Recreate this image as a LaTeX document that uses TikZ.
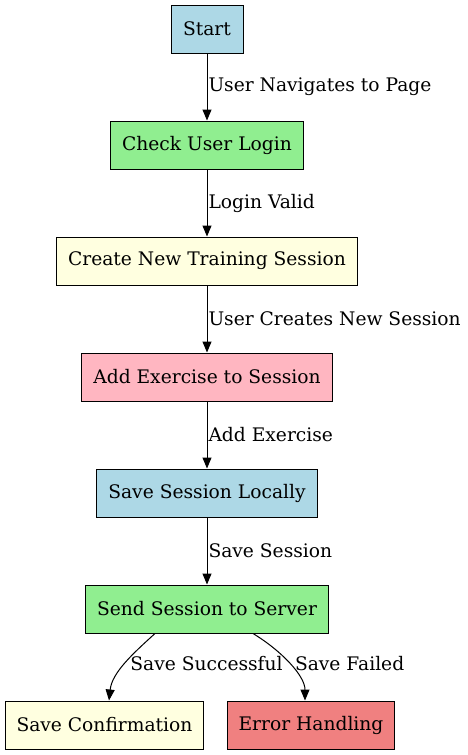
\documentclass[tikz,border=0pt]{standalone}
\usepackage{fontspec}
\setmainfont{DejaVu Serif}
\usetikzlibrary{arrows.meta}

\definecolor{lightblue}{HTML}{ADD8E6}
\definecolor{lightgreen}{HTML}{90EE90}
\definecolor{lightyellow}{HTML}{FFFFE0}
\definecolor{lightpink}{HTML}{FFB6C1}
\definecolor{lightcoral}{HTML}{F08080}

\tikzstyle{block} = [rectangle, draw, line width=1pt, minimum width=72pt, minimum height=48pt, inner xsep=11.5pt, font=\fontsize{18.67pt}{22pt}\selectfont]
\tikzstyle{flow} = [line width=1pt, -{Triangle[length=11pt,width=9pt]}]
\tikzstyle{lbl} = [right, inner sep=1pt, font=\fontsize{18.67pt}{22pt}\selectfont]

\begin{document}
\begin{tikzpicture}[x=1pt, y=-1pt]
        \useasboundingbox (0,0) rectangle (467,755);
        % Main chain of steps
        \node (start) at (207,29) [block, fill=lightblue] {Start};
        \node (login) at (207,145) [block, fill=lightgreen] {Check User Login};
        \node (create) at (207,261) [block, fill=lightyellow] {Create New Training Session};
        \node (addex) at (207,377) [block, fill=lightpink] {Add Exercise to Session};
        \node (local) at (207,493) [block, fill=lightblue] {Save Session Locally};
        \node (send) at (207,609) [block, fill=lightgreen] {Send Session to Server};
        % Outcomes
        \node (confirm) at (104.5,725) [block, fill=lightyellow] {Save Confirmation};
        \node (error) at (311,725) [block, fill=lightcoral] {Error Handling};

        \draw[flow] (start) -- node[lbl] {User Navigates to Page} (login);
        \draw[flow] (login) -- node[lbl] {Login Valid} (create);
        \draw[flow] (create) -- node[lbl] {User Creates New Session} (addex);
        \draw[flow] (addex) -- node[lbl] {Add Exercise} (local);
        \draw[flow] (local) -- node[lbl] {Save Session} (send);
        \draw[flow] ([xshift=-52pt]send.south) .. controls +(-22,20) and +(3,-28) .. node[lbl, xshift=4pt] {Save Successful} ([xshift=4.5pt]confirm.north);
        \draw[flow] ([xshift=46pt]send.south) .. controls +(28,17) and +(0,-25) .. node[lbl, xshift=4pt] {Save Failed} ([xshift=-6pt]error.north);
    \end{tikzpicture}
\end{document}
